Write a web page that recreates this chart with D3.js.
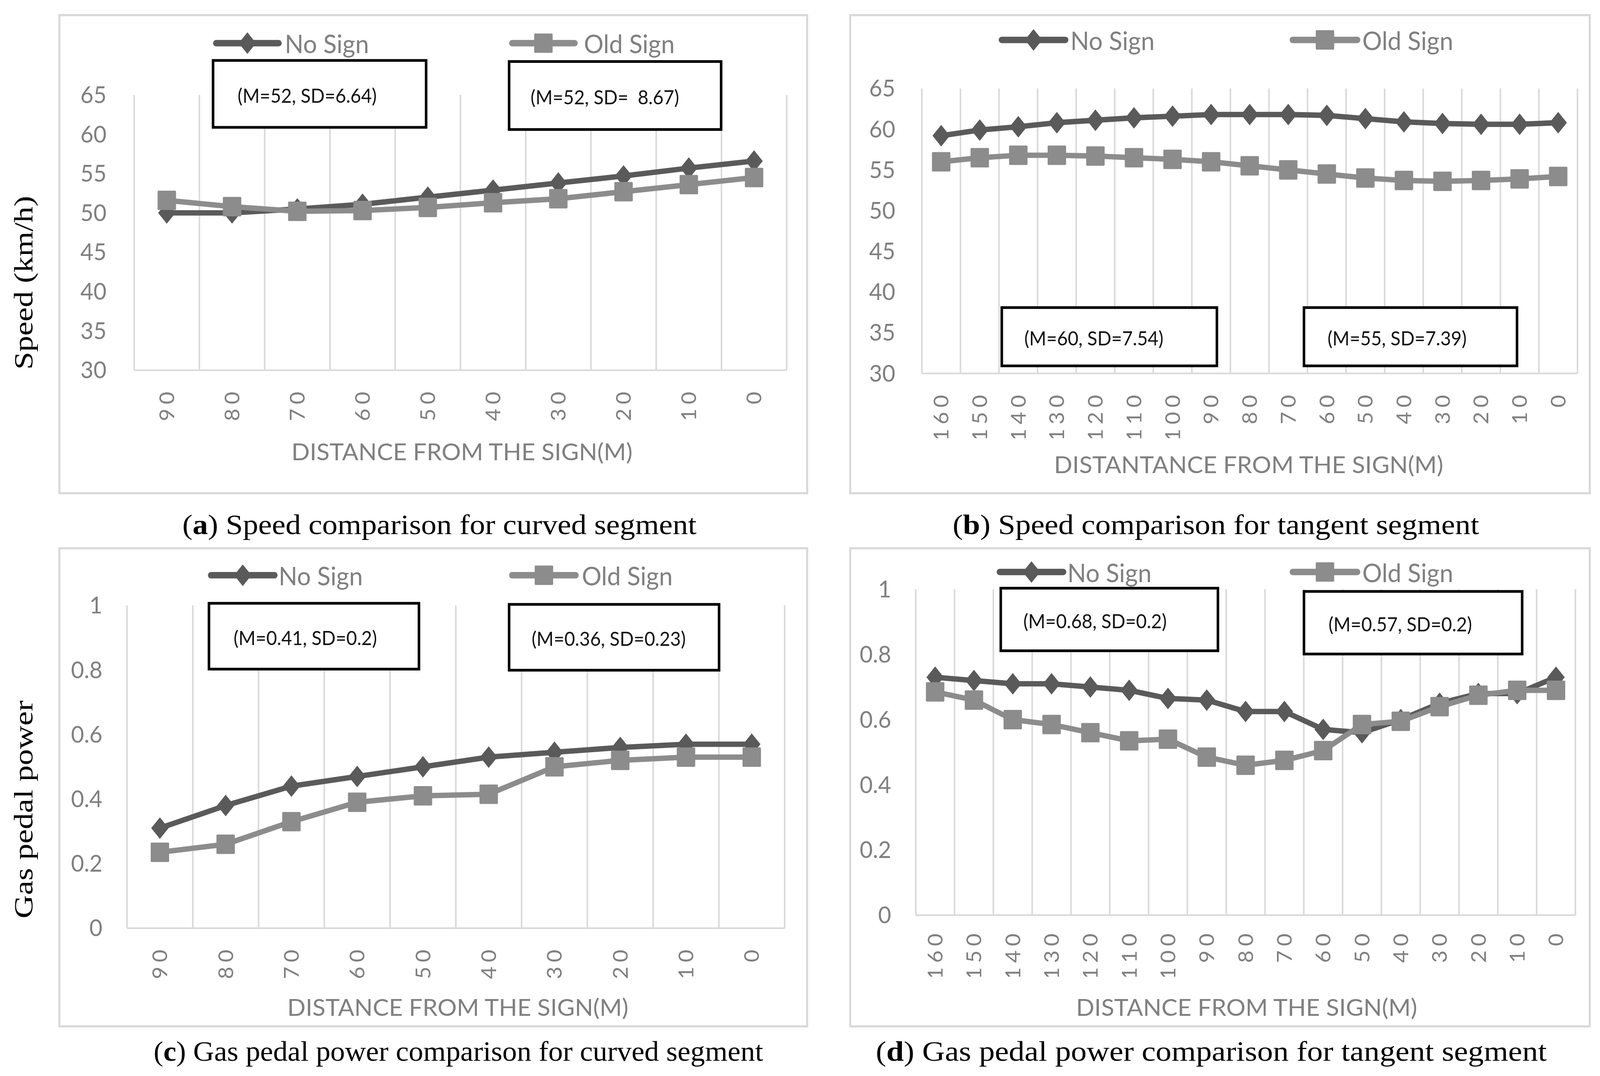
<!DOCTYPE html>
<html>
<head>
<meta charset="utf-8">
<script src="https://cdn.jsdelivr.net/npm/d3@7"></script>
<style>
  html, body { margin: 0; padding: 0; background: #fff; overflow: hidden; }
  #chart svg { display: block; width: 100vw; height: 100vh; }
</style>
</head>
<body>
<div id="chart"></div>
<script>
// categories
const curvedDistances = ['90', '80', '70', '60', '50', '40', '30', '20', '10', '0'];
const tangentDistances = ['160', '150', '140', '130', '120', '110', '100', '90', '80',
  '70', '60', '50', '40', '30', '20', '10', '0'];

// series values
const speedCurvedNoSign = [50.0, 50.0, 50.5, 51.1, 52.0, 52.9, 53.8, 54.7, 55.7, 56.6];
const speedCurvedOldSign = [51.6, 50.8, 50.2, 50.3, 50.7, 51.3, 51.8, 52.7, 53.6, 54.5];
const speedTangentNoSign = [59.2, 59.9, 60.3, 60.8, 61.1, 61.4, 61.6, 61.8, 61.8, 61.8,
  61.7, 61.3, 60.9, 60.7, 60.6, 60.6, 60.8];
const speedTangentOldSign = [56.0, 56.5, 56.8, 56.8, 56.7, 56.5, 56.3, 56.0, 55.5, 55.0,
  54.5, 54.0, 53.7, 53.6, 53.7, 53.9, 54.2];
const powerCurvedNoSign = [0.31, 0.38, 0.44, 0.47, 0.50, 0.53, 0.545, 0.56, 0.57, 0.57];
const powerCurvedOldSign = [0.235, 0.26, 0.33, 0.39, 0.41, 0.415, 0.50, 0.52, 0.53, 0.53];
const powerTangentNoSign = [0.73, 0.72, 0.71, 0.71, 0.70, 0.69, 0.665, 0.66, 0.625, 0.625,
  0.57, 0.56, 0.60, 0.65, 0.68, 0.68, 0.73];
const powerTangentOldSign = [0.685, 0.66, 0.60, 0.585, 0.56, 0.535, 0.54, 0.485, 0.46, 0.475,
  0.505, 0.585, 0.595, 0.64, 0.675, 0.69, 0.69];

// tick labels
const speedTicks = [30, 35, 40, 45, 50, 55, 60, 65];
const powerTicks = [0, 0.2, 0.4, 0.6, 0.8, 1];

const seriesNames = ['No Sign', 'Old Sign'];
const statSpeedCurved = ['(M=52, SD=6.64)', '(M=52, SD=  8.67)'];
const statSpeedTangent = ['(M=60, SD=7.54)', '(M=55, SD=7.39)'];
const statPowerCurved = ['(M=0.41, SD=0.2)', '(M=0.36, SD=0.23)'];
const statPowerTangent = ['(M=0.68, SD=0.2)', '(M=0.57, SD=0.2)'];

const xTitles = ['DISTANCE FROM THE SIGN(M)', 'DISTANTANCE FROM THE SIGN(M)',
  'DISTANCE FROM THE SIGN(M)', 'DISTANCE FROM THE SIGN(M)'];
const captionLetters = ['a', 'b', 'c', 'd'];
const captionTexts = [' Speed comparison for curved segment', ' Speed comparison for tangent segment',
  ' Gas pedal power comparison for curved segment', ' Gas pedal power comparison for tangent segment'];
const yTitles = ['Speed (km/h)', 'Gas pedal power'];

const W = 1562, H = 997;
const colors = ['#5a5a5a', '#8c8c8c'];
const sans = 'Lato, "Open Sans", sans-serif';
const serif = '"Liberation Serif", "DejaVu Serif", serif';
const textGray = '#808080';
const tickSpacing = 4;

// layout per panel (in picture units)
const panels = [
  {
    cats: curvedDistances, series: [speedCurvedNoSign, speedCurvedOldSign], ticks: speedTicks,
    stats: statSpeedCurved, box: [58, 14, 788, 457], plot: [131, 768, 88, 343], yPad: 27,
    legY: 40, leg: [[211, 272, 278], [500, 561, 570]],
    statBoxes: [[208, 56, 416, 118, 232], [497, 57, 704, 120, 518]],
    xLabTop: 363, clipY: null, xTitleY: 418, xTitleX: 451, xTitleW: 333,
    capY: 486, capX: [178, 680]
  },
  {
    cats: tangentDistances, series: [speedTangentNoSign, speedTangentOldSign], ticks: speedTicks,
    stats: statSpeedTangent, box: [830, 14, 1552, 457], plot: [900, 1540, 82, 346], yPad: 26,
    legY: 37, leg: [[978, 1040, 1045], [1262, 1325, 1330]],
    statBoxes: [[978, 285, 1188, 339, 1000], [1273, 285, 1481, 339, 1296]],
    xLabTop: 366, clipY: 406, xTitleY: 430, xTitleX: 1219, xTitleW: 380,
    capY: 486, capX: [930, 1444]
  },
  {
    cats: curvedDistances, series: [powerCurvedNoSign, powerCurvedOldSign], ticks: powerTicks,
    stats: statPowerCurved, box: [58, 508, 788, 951], plot: [124, 766, 561, 860], yPad: 24,
    legY: 533, leg: [[206, 268, 272], [500, 562, 568]],
    statBoxes: [[204, 559, 409, 620, 228], [497, 560, 702, 621, 519]],
    xLabTop: 880, clipY: null, xTitleY: 933, xTitleX: 447, xTitleW: 333,
    capY: 974, capX: [150, 745]
  },
  {
    cats: tangentDistances, series: [powerTangentNoSign, powerTangentOldSign], ticks: powerTicks,
    stats: statPowerTangent, box: [830, 508, 1552, 951], plot: [894, 1538, 546, 848], yPad: 24,
    legY: 530, leg: [[976, 1038, 1042], [1262, 1325, 1330]],
    statBoxes: [[977, 545, 1189, 603, 999], [1273, 548, 1486, 606, 1297]],
    xLabTop: 865, clipY: 905, xTitleY: 933, xTitleX: 1217, xTitleW: 333,
    capY: 974, capX: [855, 1510]
  }
];

const svg = d3.select('#chart').append('svg')
  .attr('viewBox', [0, 0, W, H])
  .attr('preserveAspectRatio', 'none');

svg.append('rect').attr('width', W).attr('height', H).attr('fill', '#fff');

function marker(sel, i) {
  if (i === 0) {
    sel.append('path').attr('d', 'M0,-10L8.5,0L0,10L-8.5,0Z').attr('fill', colors[0]);
  } else {
    sel.append('rect').attr('x', -9).attr('y', -9).attr('width', 18).attr('height', 18)
      .attr('rx', 1).attr('fill', colors[1]);
  }
}

function drawPanel(p, k) {
  const g = svg.append('g');

  g.append('rect')
    .attr('x', p.box[0]).attr('y', p.box[1])
    .attr('width', p.box[2] - p.box[0]).attr('height', p.box[3] - p.box[1])
    .attr('fill', 'none').attr('stroke', '#d9d9d9').attr('stroke-width', 2);

  const x = d3.scaleBand().domain(p.cats).range([p.plot[0], p.plot[1]]);
  const y = d3.scaleLinear()
    .domain([p.ticks[0], p.ticks[p.ticks.length - 1]])
    .range([p.plot[3], p.plot[2]]);
  const bw = x.bandwidth();

  // vertical gridlines between categories
  const edges = p.cats.map((c) => x(c)).concat([p.plot[1]]);
  g.append('g')
    .selectAll('line')
    .data(edges)
    .join('line')
    .attr('x1', (d) => d).attr('x2', (d) => d)
    .attr('y1', y.range()[1]).attr('y2', y.range()[0])
    .attr('stroke', '#d9d9d9').attr('stroke-width', 1.5);

  g.append('line')
    .attr('x1', p.plot[0]).attr('x2', p.plot[1])
    .attr('y1', y.range()[0]).attr('y2', y.range()[0])
    .attr('stroke', '#d9d9d9').attr('stroke-width', 1.5);

  // y axis labels
  const ya = g.append('g')
    .attr('transform', `translate(${p.plot[0]},0)`)
    .call(d3.axisLeft(y).tickValues(p.ticks).tickSize(0).tickPadding(p.yPad).tickFormat((d) => String(d)));
  ya.select('.domain').remove();
  ya.attr('font-family', sans).attr('font-size', 22);
  ya.selectAll('text').attr('fill', textGray);

  // x axis labels, rotated; long ones get cut like in the figure
  const xwrap = g.append('g');
  if (p.clipY) {
    svg.append('clipPath').attr('id', 'clip' + k)
      .append('rect')
      .attr('x', p.box[0]).attr('y', p.plot[3])
      .attr('width', p.box[2] - p.box[0]).attr('height', p.clipY - p.plot[3]);
    xwrap.attr('clip-path', `url(#clip${k})`);
  }
  const xa = xwrap.append('g')
    .attr('transform', `translate(0,${p.plot[3]})`)
    .call(d3.axisBottom(x).tickSize(0).tickPadding(0));
  xa.select('.domain').remove();
  xa.attr('font-family', sans).attr('font-size', 20);
  xa.selectAll('text')
    .attr('fill', textGray)
    .attr('transform', 'rotate(-90)')
    .attr('text-anchor', 'end')
    .attr('letter-spacing', tickSpacing)
    .attr('x', -(p.xLabTop - p.plot[3]) + tickSpacing)
    .attr('y', 0)
    .attr('dy', '0.36em');

  g.append('text')
    .attr('x', p.xTitleX).attr('y', p.xTitleY)
    .attr('text-anchor', 'middle').attr('dominant-baseline', 'central')
    .attr('font-family', sans).attr('font-size', 22).attr('fill', textGray)
    .attr('textLength', p.xTitleW).attr('lengthAdjust', 'spacingAndGlyphs')
    .text(xTitles[k]);

  // series
  const line = d3.line()
    .x((d, i) => x(p.cats[i]) + bw / 2)
    .y((d) => y(d));
  p.series.forEach((s, i) => {
    g.append('path')
      .attr('d', line(s))
      .attr('fill', 'none')
      .attr('stroke', colors[i])
      .attr('stroke-width', 5)
      .attr('stroke-linejoin', 'round');
    g.append('g')
      .selectAll('g')
      .data(s)
      .join('g')
      .attr('transform', (d, j) => `translate(${x(p.cats[j]) + bw / 2},${y(d)})`)
      .each(function () { marker(d3.select(this), i); });
  });

  // legend
  seriesNames.forEach((name, i) => {
    const [a, b, t] = p.leg[i];
    g.append('line')
      .attr('x1', a).attr('x2', b).attr('y1', p.legY).attr('y2', p.legY)
      .attr('stroke', colors[i]).attr('stroke-width', 6).attr('stroke-linecap', 'round');
    g.append('g')
      .attr('transform', `translate(${(a + b) / 2},${p.legY})`)
      .call((s) => marker(s, i));
    g.append('text')
      .attr('x', t).attr('y', p.legY)
      .attr('dominant-baseline', 'central')
      .attr('font-family', sans).attr('font-size', 24).attr('fill', textGray)
      .text(name);
  });

  // stat boxes
  p.statBoxes.forEach((b, i) => {
    g.append('rect')
      .attr('x', b[0]).attr('y', b[1])
      .attr('width', b[2] - b[0]).attr('height', b[3] - b[1])
      .attr('fill', '#fff').attr('stroke', '#000').attr('stroke-width', 2.5);
    g.append('text')
      .attr('x', b[4]).attr('y', (b[1] + b[3]) / 2 + 1)
      .attr('dominant-baseline', 'central')
      .attr('font-family', sans).attr('font-size', 18).attr('fill', '#111')
      .style('white-space', 'pre')
      .text(p.stats[i]);
  });

  // caption
  const cap = svg.append('text')
    .attr('x', p.capX[0]).attr('y', p.capY)
    .attr('dominant-baseline', 'central')
    .attr('font-family', serif).attr('font-size', 26).attr('fill', '#000')
    .attr('textLength', p.capX[1] - p.capX[0]).attr('lengthAdjust', 'spacingAndGlyphs');
  cap.append('tspan').text('(');
  cap.append('tspan').attr('font-weight', 'bold').text(captionLetters[k]);
  cap.append('tspan').text(')' + captionTexts[k]);
}

panels.forEach(drawPanel);

// y axis titles on the left
[[262, 161], [750, 202]].forEach(([cy, len], i) => {
  svg.append('text')
    .attr('transform', `translate(23,${cy}) rotate(-90)`)
    .attr('text-anchor', 'middle')
    .attr('dominant-baseline', 'central')
    .attr('font-family', serif).attr('font-size', 26).attr('fill', '#000')
    .attr('textLength', len).attr('lengthAdjust', 'spacingAndGlyphs')
    .text(yTitles[i]);
});
</script>
</body>
</html>
